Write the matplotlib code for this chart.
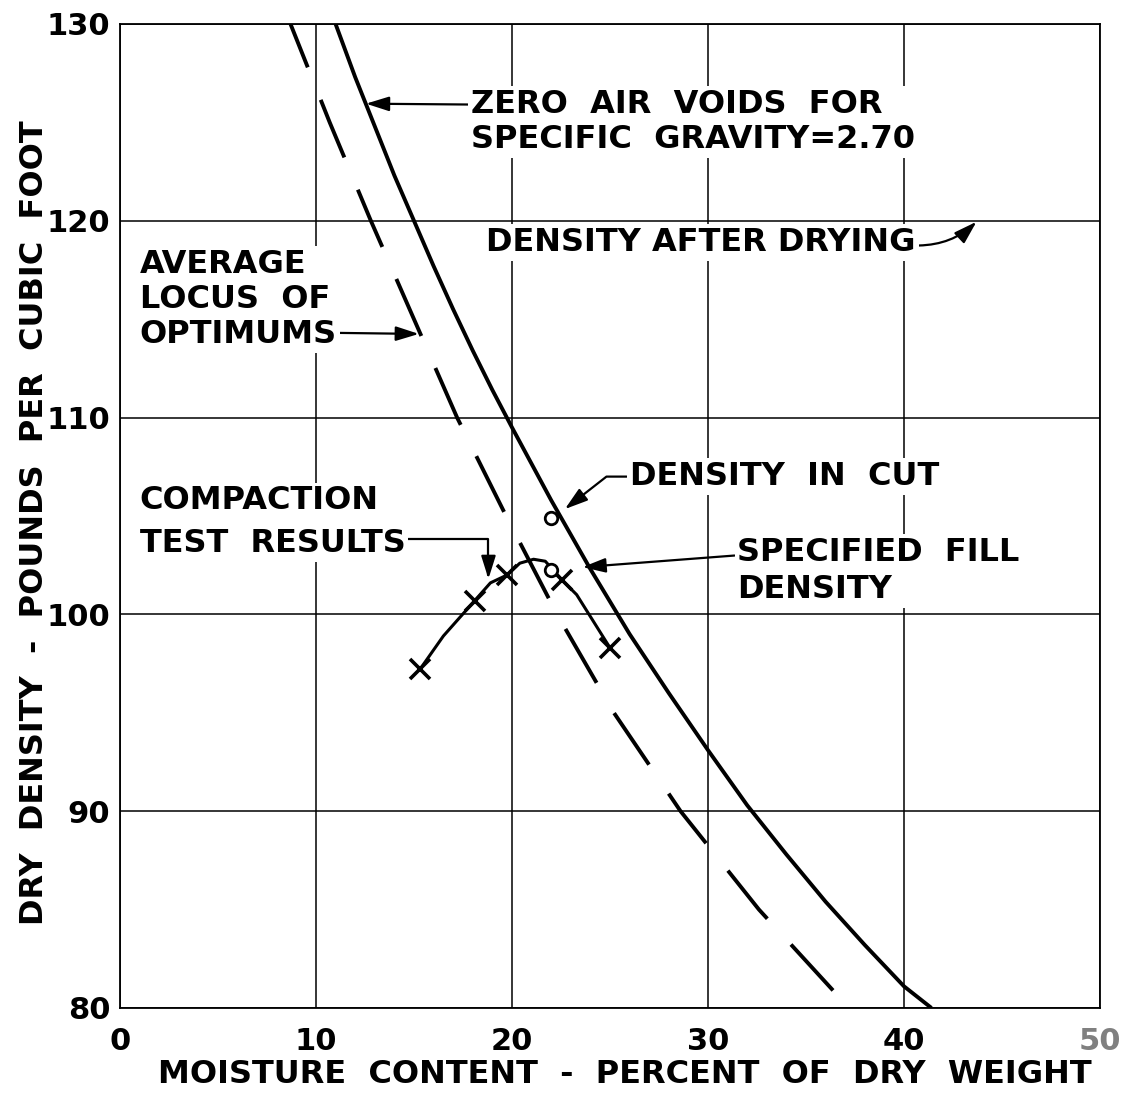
import matplotlib
matplotlib.use("Agg")
import matplotlib.pyplot as plt

# ---- data ----
# Zero air voids curve, specific gravity 2.70 (solid)
zav_moisture = [11.0, 12.0, 13.0, 14.0, 15.0, 16.0, 17.0, 18.0, 19.0, 20.0, 22.0, 24.0,
                26.0, 28.0, 30.0, 32.0, 34.0, 36.0, 38.0, 40.0, 41.4]
zav_density = [130.0, 127.3, 124.8, 122.3, 120.0, 117.7, 115.5, 113.4, 111.4, 109.5, 105.8, 102.3,
               99.0, 96.0, 93.1, 90.3, 87.8, 85.4, 83.2, 81.1, 80.0]

# Average locus of optimums (dashed)
locus_moisture = [8.7, 10.7, 12.8, 15.0, 17.2, 19.7, 22.3, 25.2, 28.6, 32.6, 37.2]
locus_density = [130.0, 125.0, 120.0, 115.0, 110.0, 105.0, 100.0, 95.0, 90.0, 85.0, 80.0]

# Compaction test results: curve and test points (x markers)
comp_curve_moisture = [15.3, 16.5, 18.1, 18.9, 19.75, 20.4, 21.1, 21.7, 22.55, 23.3, 25.0]
comp_curve_density = [97.2, 98.9, 100.7, 101.6, 102.0, 102.6, 102.8, 102.7, 101.75, 101.0, 98.3]
test_moisture = [15.3, 18.1, 19.75, 22.55, 25.0]
test_density = [97.2, 100.7, 102.0, 101.75, 98.3]

# Open circles: density in cut, specified fill density
circle_moisture = [22.0, 22.0]
circle_density = [104.9, 102.25]

x_ticks = [0, 10, 20, 30, 40, 50]
y_ticks = [80, 90, 100, 110, 120, 130]

FS_TICK = 22
FS = 23
plt.rcParams["font.family"] = ["DejaVu Sans"]
plt.rcParams["font.weight"] = "bold"

fig = plt.figure(figsize=(11.34, 10.95), dpi=100)
ax = fig.add_axes([0.1058, 0.0795, 0.8642, 0.8986])
ax.set_xlim(0, 50)
ax.set_ylim(80, 130)
ax.set_xticks(x_ticks)
ax.set_yticks(y_ticks)
ax.set_xticklabels([str(v) for v in x_ticks])
ax.set_yticklabels([str(v) for v in y_ticks])
ax.tick_params(axis="both", length=0, labelsize=FS_TICK)
ax.tick_params(axis="x", pad=14)
ax.tick_params(axis="y", pad=7)
ax.get_xticklabels()[-1].set_color("#808080")
for s in ax.spines.values():
    s.set_linewidth(1.3)
    s.set_color("black")
ax.grid(True, color="black", linewidth=1.1, zorder=0)
ax.set_axisbelow(True)

ax.set_xlabel("MOISTURE  CONTENT  -  PERCENT  OF  DRY  WEIGHT", fontsize=FS, fontweight="bold")
ax.set_ylabel("DRY  DENSITY  -  POUNDS  PER  CUBIC  FOOT", fontsize=FS, fontweight="bold")
ax.xaxis.set_label_coords(0.515, -0.068)
ax.xaxis.label.set_va("center")
ax.yaxis.set_label_coords(-0.087, 0.493)
ax.yaxis.label.set_va("center")

# curves
ax.plot(zav_moisture, zav_density, color="black", lw=2.8, solid_capstyle="butt", zorder=4)
ax.plot(locus_moisture, locus_density, color="black", lw=2.8,
        linestyle=(4, (16, 9)), zorder=4)
ax.plot(comp_curve_moisture, comp_curve_density, color="black", lw=2.2, zorder=4)
ax.plot(test_moisture, test_density, linestyle="none", marker="x", markersize=14,
        markeredgewidth=2.6, color="black", zorder=5)
ax.plot(circle_moisture, circle_density, linestyle="none", marker="o", markersize=9,
        markeredgewidth=2.0, markerfacecolor="white", markeredgecolor="black", zorder=5)

box = dict(facecolor="white", edgecolor="none", pad=2)


def label(text, pos, tip=None, relpos=(0.5, 0.5), conn="arc3,rad=0", ls=1.2):
    props = None
    if tip is not None:
        props = dict(arrowstyle="-|>,head_length=0.7,head_width=0.22",
                     mutation_scale=20, color="black", lw=1.6,
                     shrinkA=0, shrinkB=0, connectionstyle=conn, relpos=relpos)
    ax.annotate(text, xy=tip if tip is not None else pos, xytext=pos,
                textcoords="data", fontsize=FS, fontweight="bold", color="black",
                ha="left", va="center", linespacing=ls, bbox=box,
                arrowprops=props, zorder=6)


label("ZERO  AIR  VOIDS  FOR\nSPECIFIC  GRAVITY=2.70", (17.9, 125.0),
      tip=(12.55, 125.95), relpos=(0.0, 0.77), ls=1.17)
label("DENSITY AFTER DRYING", (18.7, 118.9),
      tip=(43.7, 119.95), relpos=(1.0, 0.4), conn="arc3,rad=0.2")
label("AVERAGE\nLOCUS  OF\nOPTIMUMS", (1.0, 116.0),
      tip=(15.25, 114.25), relpos=(1.0, 0.17), ls=1.17)
label("COMPACTION\nTEST  RESULTS", (1.0, 104.67),
      tip=(18.8, 101.8), relpos=(1.0, 0.27), conn="angle,angleA=0,angleB=90,rad=0", ls=1.5)
label("DENSITY  IN  CUT", (26.0, 107.0),
      tip=(22.7, 105.35), relpos=(0.0, 0.5), conn="angle,angleA=0,angleB=38,rad=0")
label("SPECIFIED  FILL\nDENSITY", (31.5, 102.2),
      tip=(23.6, 102.4), relpos=(0.0, 0.73), ls=1.27)

fig.savefig("out.png", dpi=100, facecolor="white")
